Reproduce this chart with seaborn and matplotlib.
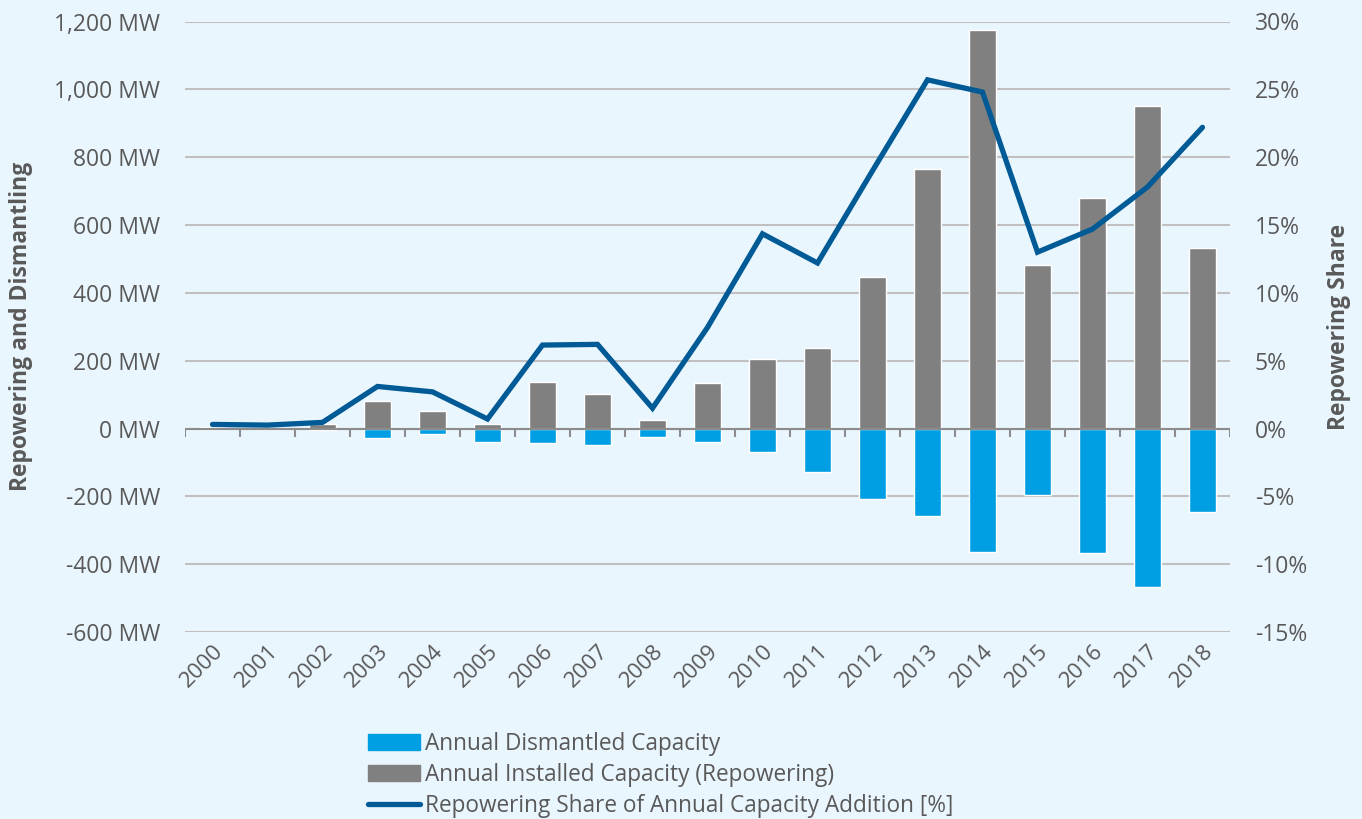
#%% Preparations
import numpy as np
import pandas as pd
import matplotlib
matplotlib.use("Agg")
import matplotlib.pyplot as plt
from matplotlib.ticker import FuncFormatter, MultipleLocator
import seaborn as sns

#%% data
years = [str(y) for y in range(2000, 2019)]
installed = [5, 2, 14, 81, 53, 12, 137, 103, 25, 134, 204, 236, 446, 766, 1175, 483, 679, 951, 532]
dismantled = [-1, -1, -5, -29, -17, -40, -43, -50, -25, -39, -69, -128, -207, -259, -364, -197, -368, -467, -247]
share = [0.3, 0.25, 0.45, 3.1, 2.7, 0.7, 6.15, 6.2, 1.5, 7.45, 14.35, 12.2, 19.0, 25.7, 24.8, 13.0, 14.7, 17.8, 22.2]

lbl_dis = "Annual Dismantled Capacity"
lbl_inst = "Annual Installed Capacity (Repowering)"
lbl_share = "Repowering Share of Annual Capacity Addition [%]"

df = pd.DataFrame({"year": years, "installed": installed,
                   "dismantled": dismantled, "share": share})
df["pos"] = np.arange(len(df))

bg = "#EAF6FE"
blue = "#009FE3"
gray = "#808080"
navy = "#005A96"
txt = "#595959"

#%% Plot
sns.set_style("white")
plt.rcParams["font.family"] = ["Open Sans", "DejaVu Sans"]

fig = plt.figure(figsize=(13.62, 8.19), dpi=100, facecolor=bg)
ax = fig.add_axes([185/1362, 1-632/819, (1230-185)/1362, (632-21.5)/819])
ax.set_facecolor(bg)

sns.barplot(data=df, x="year", y="installed", color=gray, width=0.5,
            saturation=1, ax=ax, zorder=2)
sns.barplot(data=df, x="year", y="dismantled", color=blue, width=0.5,
            saturation=1, ax=ax, zorder=2)

ax.set_ylim(-600, 1200)
ax.set_xlim(-0.5, len(years) - 0.5)
ax.yaxis.set_major_locator(MultipleLocator(200))
ax.yaxis.set_major_formatter(FuncFormatter(lambda v, p: f"{v:,.0f} MW"))
ax.grid(axis="y", color="#C0C0C0", lw=1.5, zorder=0)
ax.set_axisbelow(True)
for s in ax.spines.values():
    s.set_visible(False)

# zero line with category-boundary ticks
ax.axhline(0, color="#8C8C8C", lw=1.5, zorder=3)
ax.vlines(np.arange(len(years) + 1) - 0.5, -24, 0, color="#8C8C8C", lw=1.5, zorder=3)

ax.tick_params(axis="y", length=0, pad=18, labelsize=16.5, labelcolor=txt)
ax.tick_params(axis="x", length=0, pad=6, labelsize=16, labelcolor=txt)
plt.setp(ax.get_xticklabels(), rotation=45, ha="right", rotation_mode="anchor")
ax.set_xlabel("")
ax.set_ylabel("Repowering and Dismantling", fontsize=16.5, fontweight="bold",
              color=txt)
ax.yaxis.set_label_coords(-0.1455, 0.5)

# share line on right axis
ax2 = ax.twinx()
sns.lineplot(data=df, x="pos", y="share", color=navy, lw=3.8, ax=ax2,
             solid_capstyle="round", solid_joinstyle="miter")
ax2.set_ylim(-15, 30)
ax2.set_xlim(-0.5, len(years) - 0.5)
ax2.yaxis.set_major_locator(MultipleLocator(5))
ax2.yaxis.set_major_formatter(FuncFormatter(lambda v, p: f"{v:.0f}%"))
ax2.tick_params(axis="y", length=0, pad=18, labelsize=16.5, labelcolor=txt)
ax2.set_ylabel("Repowering Share", fontsize=16.5, fontweight="bold", color=txt)
ax2.yaxis.set_label_coords(1.0928, 0.5)
for s in ax2.spines.values():
    s.set_visible(False)

# legend below the chart
handles = [plt.Rectangle((0, 0), 1, 1, color=blue),
           plt.Rectangle((0, 0), 1, 1, color=gray),
           plt.Line2D([], [], color=navy, lw=3.8, solid_capstyle="round")]
fig.legend(handles, [lbl_dis, lbl_inst, lbl_share], loc="upper left",
           bbox_to_anchor=(368/1362, 1-732/819), frameon=False,
           fontsize=16.3, labelcolor=txt, handlelength=2.3, handletextpad=0.2,
           labelspacing=0.3, borderpad=0, borderaxespad=0)

fig.savefig("out.png", dpi=100, facecolor=bg)
